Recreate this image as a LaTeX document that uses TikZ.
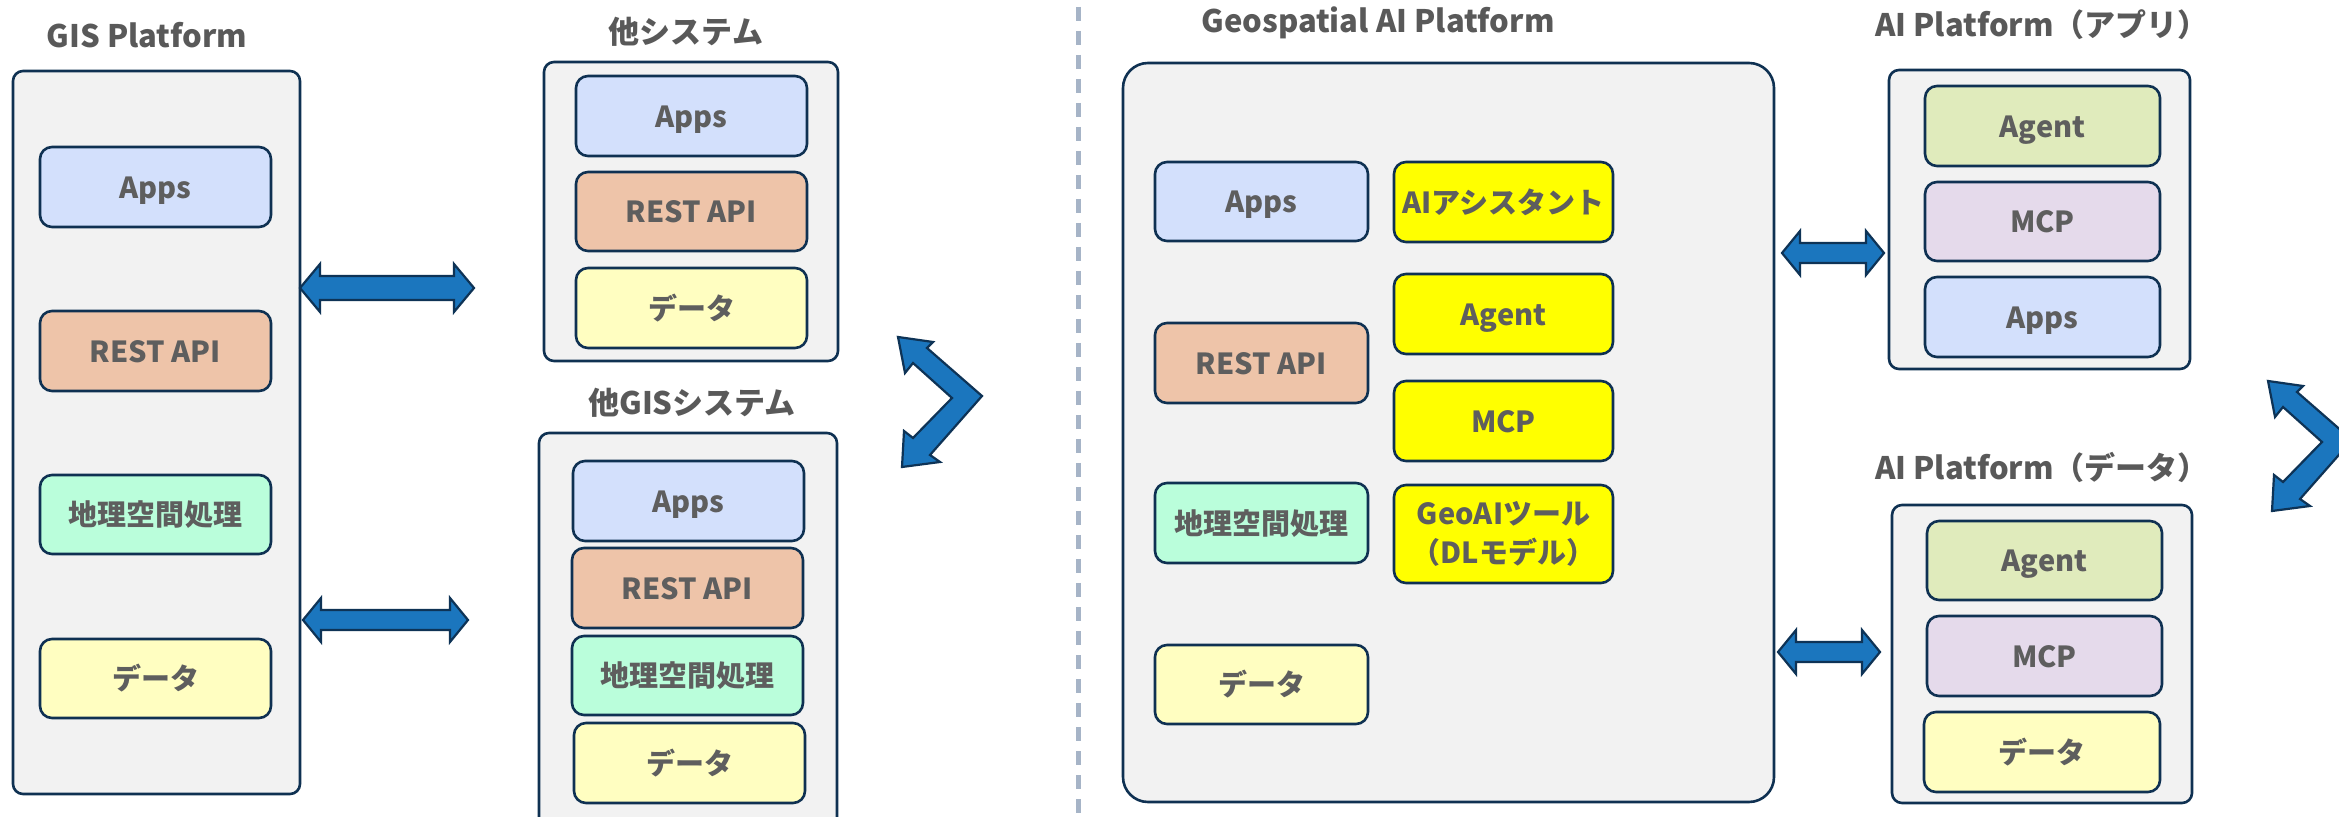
\documentclass[tikz,border=0pt]{standalone}
\usepackage{fontspec}
\setmainfont{Noto Sans CJK JP}
\definecolor{edge}{HTML}{0F3152}
\definecolor{panel}{HTML}{F2F2F2}
\definecolor{cApps}{HTML}{D3E0FC}
\definecolor{cRest}{HTML}{EEC4A9}
\definecolor{cGeo}{HTML}{BAFEDB}
\definecolor{cData}{HTML}{FFFEC1}
\definecolor{cAI}{HTML}{FFFF00}
\definecolor{cAgent}{HTML}{E0EBBC}
\definecolor{cMcp}{HTML}{E5DAEB}
\definecolor{arrowblue}{HTML}{1B76BE}
\definecolor{arrowedge}{HTML}{0E3356}
\definecolor{txt}{HTML}{595959}
\definecolor{itxt}{HTML}{5E5E5E}
\definecolor{dashc}{HTML}{A6B4C7}
\tikzset{
  panelbox/.style={draw=edge, fill=panel, line width=1.3pt, rounded corners=5pt, inner sep=0pt},
  item/.style={draw=edge, line width=1.3pt, rounded corners=6pt, inner sep=0pt, text=itxt,
    font=\fontsize{14.5}{19.5}\selectfont\bfseries, align=center},
  itemtxt/.style={item, text height=14.3pt, text depth=3pt},
  ttl/.style={text=txt, font=\fontsize{15.5}{20}\selectfont\bfseries, inner sep=0pt, anchor=base},
  blockarrow/.style={fill=arrowblue, draw=arrowedge, line width=1.1pt, line join=miter},
  divider/.style={draw=dashc, line width=2.5pt, dash pattern=on 7pt off 5pt},
}
% name, style, x1, y1, x2, y2, text  (pixel coordinates)
\newcommand\ibox[7]{%
  \node[#2, minimum width={(#5-#3)*0.5pt}, minimum height={(#6-#4)*0.5pt}]
    (#1) at ({(#3+#5)/2},{(#4+#6)/2}) {#7};}
\newcommand\hdblarrow[6]{%
  \filldraw[blockarrow] (#1,#3) -- (#1+#4,#3-#5) -- (#1+#4,#3-#6) -- (#2-#4,#3-#6)
    -- (#2-#4,#3-#5) -- (#2,#3) -- (#2-#4,#3+#5) -- (#2-#4,#3+#6) -- (#1+#4,#3+#6)
    -- (#1+#4,#3+#5) -- cycle;}
\newcommand\chevarrow[2]{%
  \begin{scope}[shift={(#1,#2)}]
  \filldraw[blockarrow] (898,337) -- (933,342) -- (927,348) -- (982,396) -- (930,455)
    -- (940,462) -- (902,467) -- (904,431) -- (913,438) -- (952,398) -- (913,363)
    -- (905,373) -- cycle;
  \end{scope}}
\begin{document}
\begin{tikzpicture}[x=0.5pt,y=-0.5pt]
\useasboundingbox (0,0) rectangle (2339,817);
\fill[white] (0,0) rectangle (2339,817);

% divider
\draw[divider] (1078,7) -- (1078,817);

% titles (anchored at baseline)
\node[ttl] (tGIS) at (147,48) {GIS Platform};
\node[ttl] (tOth) at (686,44) {他システム};
\node[ttl] (tOGIS) at (692,415) {他GISシステム};
\node[ttl] (tGeo) at (1378,33) {Geospatial AI Platform};
\node[ttl] (tApp) at (2042,37) {AI Platform（アプリ）};
\node[ttl] (tDat) at (2042,480) {AI Platform（データ）};

% GIS Platform
\ibox{gis}{panelbox}{13}{71}{300}{794}{}
\ibox{g1}{itemtxt, fill=cApps}{40}{147}{271}{227}{Apps}
\ibox{g2}{itemtxt, fill=cRest}{40}{311}{271}{391}{REST API}
\ibox{g3}{itemtxt, fill=cGeo}{40}{475}{271}{554}{地理空間処理}
\ibox{g4}{itemtxt, fill=cData}{40}{639}{271}{718}{データ}

% other system
\ibox{oth}{panelbox}{544}{62}{838}{361}{}
\ibox{o1}{itemtxt, fill=cApps}{576}{76}{807}{156}{Apps}
\ibox{o2}{itemtxt, fill=cRest}{576}{172}{807}{251}{REST API}
\ibox{o3}{itemtxt, fill=cData}{576}{268}{807}{348}{データ}

% other GIS system
\ibox{ogis}{panelbox}{539}{433}{837}{830}{}
\ibox{q1}{itemtxt, fill=cApps}{573}{461}{804}{541}{Apps}
\ibox{q2}{itemtxt, fill=cRest}{572}{548}{803}{628}{REST API}
\ibox{q3}{itemtxt, fill=cGeo}{572}{636}{803}{715}{地理空間処理}
\ibox{q4}{itemtxt, fill=cData}{574}{723}{805}{803}{データ}

% Geospatial AI Platform
\ibox{geo}{panelbox, rounded corners=12.5pt}{1123}{63}{1774}{802}{}
\ibox{a1}{itemtxt, fill=cApps}{1155}{162}{1368}{241}{Apps}
\ibox{a2}{itemtxt, fill=cRest}{1155}{323}{1368}{403}{REST API}
\ibox{a3}{itemtxt, fill=cGeo}{1155}{483}{1368}{563}{地理空間処理}
\ibox{a4}{itemtxt, fill=cData}{1155}{645}{1368}{724}{データ}
\ibox{b1}{itemtxt, fill=cAI}{1394}{162}{1613}{242}{AIアシスタント}
\ibox{b2}{itemtxt, fill=cAI}{1394}{274}{1613}{354}{Agent}
\ibox{b3}{itemtxt, fill=cAI}{1394}{381}{1613}{461}{MCP}
\ibox{b4}{item, fill=cAI}{1394}{485}{1613}{583}{GeoAIツール\\（DLモデル）}

% AI Platform (app)
\ibox{aiapp}{panelbox}{1889}{70}{2190}{369}{}
\ibox{p1}{itemtxt, fill=cAgent}{1925}{86}{2160}{166}{Agent}
\ibox{p2}{itemtxt, fill=cMcp}{1925}{182}{2160}{261}{MCP}
\ibox{p3}{itemtxt, fill=cApps}{1925}{277}{2160}{357}{Apps}

% AI Platform (data)
\ibox{aidat}{panelbox}{1892}{505}{2192}{803}{}
\ibox{d1}{itemtxt, fill=cAgent}{1927}{521}{2162}{600}{Agent}
\ibox{d2}{itemtxt, fill=cMcp}{1927}{616}{2162}{696}{MCP}
\ibox{d3}{itemtxt, fill=cData}{1924}{712}{2160}{792}{データ}

% block arrows
\hdblarrow{300}{474}{288}{20}{24}{12}
\hdblarrow{303}{468}{620}{18}{22}{10}
\hdblarrow{1782}{1884}{253}{18}{22}{10}
\hdblarrow{1778}{1880}{652}{18}{22}{10}
\chevarrow{0}{0}
\chevarrow{1370}{44}
\end{tikzpicture}
\end{document}
